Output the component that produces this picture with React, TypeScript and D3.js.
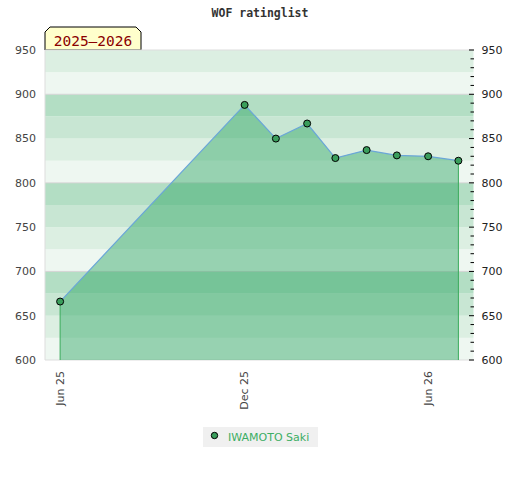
import * as d3 from "d3";

const TITLE = "WOF ratinglist";
const SEASON = "2025–2026";
const PLAYER = "IWAMOTO Saki";

const dates = [
  "2025-06-01", "2025-12-01", "2026-01-01", "2026-02-01", "2026-03-01",
  "2026-04-01", "2026-05-01", "2026-06-01", "2026-07-01",
];
const ratings = [666, 888, 850, 867, 828, 837, 831, 830, 825];

const xDomain = ["2025-05-17", "2026-07-16"];
const yDomain = [600, 950];
const xTicks = ["2025-06-01", "2025-12-01", "2026-06-01"];
const yTicks = [600, 650, 700, 750, 800, 850, 900, 950];
const gridValues = [700, 800, 900];

// four shades, repeating every 100 points (from the bottom up)
const BAND_COLORS = ["#eef7f1", "#dcefe2", "#c8e6d3", "#b3dec4"];

const W = 520;
const H = 480;
const margin = { top: 50, right: 46.5, bottom: 120, left: 45 };

const parse = d3.utcParse("%Y-%m-%d");

export default function App() {
  const x = d3
    .scaleUtc()
    .domain(xDomain.map((d) => parse(d)!))
    .range([margin.left, W - margin.right]);
  const y = d3
    .scaleLinear()
    .domain(yDomain)
    .range([H - margin.bottom, margin.top]);

  const points = dates.map((d, i) => ({ date: parse(d)!, value: ratings[i] }));

  const bands = d3.range(yDomain[0], yDomain[1], 25);
  const minor = d3.range(yDomain[0], yDomain[1] + 1, 10);

  const line = d3
    .line<{ date: Date; value: number }>()
    .x((d) => x(d.date))
    .y((d) => y(d.value));
  const area = d3
    .area<{ date: Date; value: number }>()
    .x((d) => x(d.date))
    .y0(y(yDomain[0]))
    .y1((d) => y(d.value));

  const x0 = margin.left;
  const x1 = W - margin.right;
  const yTop = y(yDomain[1]);
  const yBot = y(yDomain[0]);
  const first = points[0];
  const last = points[points.length - 1];
  const fmt = d3.utcFormat("%b %y");

  return (
    <svg
      width={W}
      height={H}
      style={{ position: "absolute", left: 0, top: 0 }}
      fontFamily="DejaVu Sans"
    >
      <rect width={W} height={H} fill="#fff" />
      <text
        x={W / 2}
        y={16.5}
        textAnchor="middle"
        fontFamily="DejaVu Sans Mono"
        fontWeight="bold"
        fontSize={11.5}
        fill="#333"
      >
        {TITLE}
      </text>

      {/* season label */}
      <path
        d={`M${x0},${yTop} L${x0},${yTop - 18} L${x0 + 5},${yTop - 23} L${x0 + 91},${yTop - 23} L${x0 + 96},${yTop - 18} L${x0 + 96},${yTop} Z`}
        fill="#ffffcc"
        stroke="#000"
        strokeWidth={1}
      />
      <text
        x={x0 + 48}
        y={yTop - 4.5}
        textAnchor="middle"
        fontFamily="DejaVu Sans Mono"
        fontSize={14.5}
        fill="#8b0000"
      >
        {SEASON}
      </text>

      {/* background bands */}
      {bands.map((b, i) => (
        <rect
          key={b}
          x={x0}
          y={y(b + 25)}
          width={x1 - x0}
          height={y(b) - y(b + 25)}
          fill={BAND_COLORS[i % 4]}
        />
      ))}
      {gridValues.map((g) => (
        <line key={g} x1={x0} x2={x1} y1={y(g)} y2={y(g)} stroke="#d4d4d4" />
      ))}
      <line x1={x0} x2={x1} y1={yTop} y2={yTop} stroke="#ddd" />
      <line x1={x0} x2={x1} y1={yBot} y2={yBot} stroke="#ddd" />
      <line x1={x0} x2={x0} y1={yTop} y2={yBot} stroke="#ddd" />

      {/* area + line */}
      <path d={area(points)!} fill="rgba(40,165,95,0.44)" />
      <line x1={x(first.date)} x2={x(first.date)} y1={y(first.value)} y2={yBot} stroke="#3aaa5a" />
      <line x1={x(last.date)} x2={x(last.date)} y1={y(last.value)} y2={yBot} stroke="#3aaa5a" />
      <path d={line(points)!} fill="none" stroke="#6aa6d8" strokeWidth={1.2} />
      {points.map((p, i) => (
        <circle key={i} cx={x(p.date)} cy={y(p.value)} r={3.5} fill="#3a9e5c" stroke="#000" strokeWidth={1} />
      ))}

      {/* right ticks */}
      {minor.map((v) => (
        <line
          key={v}
          x1={x1 - (v % 50 === 0 ? 4.5 : 3)}
          x2={x1 + 0.5}
          y1={y(v)}
          y2={y(v)}
          stroke="#000"
        />
      ))}

      {/* y labels */}
      {yTicks.map((t) => (
        <g key={t}>
          <text x={36} y={y(t)} dy="0.35em" textAnchor="end" fontSize={11} fill="#444">
            {t}
          </text>
          <text x={x1 + 8} y={y(t)} dy="0.35em" textAnchor="start" fontSize={11} fill="#222">
            {t}
          </text>
        </g>
      ))}

      {/* x labels */}
      {xTicks.map((t) => {
        const px = x(parse(t)!);
        return (
          <text
            key={t}
            transform={`translate(${px},${yBot + 11}) rotate(-90)`}
            textAnchor="end"
            dy="0.35em"
            fontSize={11}
            fill="#444"
          >
            {fmt(parse(t)!)}
          </text>
        );
      })}

      {/* legend */}
      <rect x={203} y={427} width={115} height={20} fill="#f0f0f0" />
      <circle cx={214.5} cy={435.5} r={3.2} fill="#3a9e5c" stroke="#000" strokeWidth={1} />
      <text x={228} y={440.5} fontSize={11} fill="#3cae64">
        {PLAYER}
      </text>
    </svg>
  );
}
